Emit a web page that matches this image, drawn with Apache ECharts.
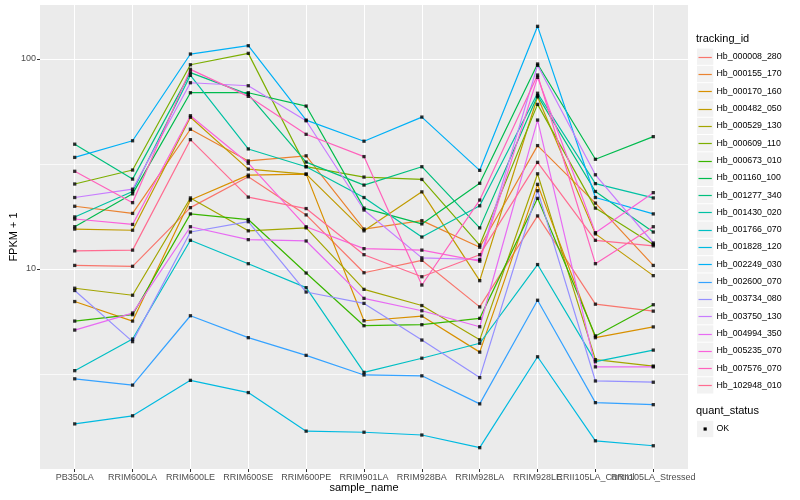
<!DOCTYPE html>
<html>
<head>
<meta charset="utf-8">
<script src="https://cdn.jsdelivr.net/npm/echarts@6.0.0/dist/echarts.min.js"></script>
<style>
html,body{margin:0;padding:0;background:#fff;}
#chart{width:800px;height:500px;}
</style>
</head>
<body>
<div id="chart"></div>
<script>
// ---------------- data ----------------
const categories = ["PB350LA","RRIM600LA","RRIM600LE","RRIM600SE","RRIM600PE","RRIM901LA","RRIM928BA","RRIM928LA","RRIM928LE","RRII105LA_Control","RRII105LA_Stressed"];
const trackingIds = ["Hb_000008_280","Hb_000155_170","Hb_000170_160","Hb_000482_050","Hb_000529_130","Hb_000609_110","Hb_000673_010","Hb_001160_100","Hb_001277_340","Hb_001430_020","Hb_001766_070","Hb_001828_120","Hb_002249_030","Hb_002600_070","Hb_003734_080","Hb_003750_130","Hb_004994_350","Hb_005235_070","Hb_007576_070","Hb_102948_010"];
const seriesColors = ["#F8766D","#EA8331","#D89000","#C09B00","#A3A500","#7CAE00","#39B600","#00BB4E","#00BF7D","#00C1A3","#00BFC4","#00BAE0","#00B0F6","#35A2FF","#9590FF","#C77CFF","#E76BF3","#FA62DB","#FF62BC","#FF6C91"];

const hb_000008_280 = [10.4, 10.3, 19.6, 27.5, 18.1, 9.6, 11.0, 6.6, 17.9, 6.8, 6.3];
const hb_000155_170 = [19.9, 18.4, 46.3, 32.7, 34.6, 15.5, 17.0, 12.7, 38.7, 20.6, 10.4];
const hb_000170_160 = [7.0, 5.65, 21.3, 28.0, 28.3, 5.67, 5.97, 4.02, 25.3, 4.71, 5.30];
const hb_000482_050 = [15.5, 15.3, 52.8, 29.9, 28.3, 15.2, 23.3, 8.8, 66.1, 14.7, 9.3];
const hb_000529_130 = [8.1, 7.5, 21.8, 15.2, 15.7, 8.0, 6.7, 4.6, 28.4, 3.7, 3.45];
const hb_000609_110 = [25.4, 29.6, 93.9, 106.4, 30.7, 27.4, 26.7, 13.0, 60.8, 19.5, 13.1];
const hb_000673_010 = [5.65, 6.06, 18.3, 17.2, 9.57, 5.37, 5.43, 5.82, 21.7, 4.80, 6.76];
const hb_001160_100 = [15.9, 22.8, 69.1, 69.1, 59.7, 19.5, 16.4, 25.6, 94.7, 33.3, 42.7];
const hb_001277_340 = [39.3, 26.8, 86.1, 67.9, 32.3, 25.1, 30.7, 15.7, 66.9, 23.4, 15.0];
const hb_001430_020 = [17.7, 23.4, 83.6, 37.3, 30.7, 21.9, 14.2, 20.0, 68.7, 25.5, 21.8];
const hb_001766_070 = [3.28, 4.64, 13.7, 10.6, 8.15, 3.22, 3.76, 4.43, 10.5, 3.62, 4.11];
const hb_001828_120 = [1.83, 2.00, 2.95, 2.58, 1.69, 1.67, 1.62, 1.41, 3.82, 1.52, 1.44];
const hb_002249_030 = [34.0, 40.8, 105.6, 115.7, 51.2, 40.6, 52.9, 29.5, 143.1, 21.9, 18.3];
const hb_002600_070 = [3.00, 2.80, 5.99, 4.71, 3.88, 3.13, 3.10, 2.28, 7.10, 2.31, 2.26];
const hb_003734_080 = [7.90, 4.51, 15.0, 16.8, 7.77, 6.86, 4.59, 3.04, 23.6, 2.93, 2.89];
const hb_003750_130 = [21.9, 24.0, 77.1, 74.6, 50.8, 19.1, 11.3, 11.1, 93.3, 28.1, 13.3];
const hb_004994_350 = [5.12, 6.17, 15.9, 13.8, 13.6, 7.25, 6.33, 5.31, 51.2, 3.42, 3.42];
const hb_005235_070 = [17.3, 16.3, 53.7, 31.9, 15.9, 12.5, 12.3, 10.9, 81.8, 14.9, 23.1];
const hb_007576_070 = [29.2, 20.7, 89.3, 66.4, 43.8, 34.3, 8.39, 21.3, 83.9, 10.6, 15.9];
const hb_102948_010 = [12.2, 12.3, 41.3, 22.0, 19.4, 11.7, 9.19, 11.7, 32.2, 13.7, 12.9];

const seriesValues = [hb_000008_280, hb_000155_170, hb_000170_160, hb_000482_050, hb_000529_130,
  hb_000609_110, hb_000673_010, hb_001160_100, hb_001277_340, hb_001430_020, hb_001766_070,
  hb_001828_120, hb_002249_030, hb_002600_070, hb_003734_080, hb_003750_130, hb_004994_350,
  hb_005235_070, hb_007576_070, hb_102948_010];

const yTickValues = [10, 100];
const yMinorValues = [3.1623, 31.623];
const quantStatus = ["OK"];

// ---------------- chart ----------------
const FONT = "'Liberation Sans', Arial, sans-serif";
const chart = echarts.init(document.getElementById('chart'), null, {renderer: 'canvas'});
const catIdx = categories.map((_, i) => i);
// labels split over two coincident bottom axes so that overlapping neighbours are both drawn
const evenIdx = catIdx.filter(i => i % 2 === 0);
const oddIdx = catIdx.filter(i => i % 2 === 1);

const series = [];
seriesValues.forEach((vals, k) => {
  series.push({
    type: 'line', name: trackingIds[k],
    data: vals.map((v, i) => [i, v]),
    showSymbol: false, silent: true, animation: false, z: 2,
    lineStyle: {color: seriesColors[k], width: 1.2},
    itemStyle: {color: seriesColors[k]}
  });
});
seriesValues.forEach((vals, k) => {
  series.push({
    type: 'scatter', name: trackingIds[k] + '_pts',
    data: vals.map((v, i) => [i, v]),
    symbol: 'rect', symbolSize: 3.3, silent: true, animation: false, z: 3,
    itemStyle: {color: '#000'}
  });
});

// legend drawn as graphic elements
const graphic = [];
const legX = 696, keyX = 697, keySize = 16.3, step = 17.3, firstY = 56.7;
graphic.push({type: 'text', left: legX, top: 33, style: {text: 'tracking_id', fontSize: 11, fontFamily: FONT, fill: '#000'}});
trackingIds.forEach((id, i) => {
  const yc = firstY + step * i;
  const yl = Math.round(yc) + 0.5;
  graphic.push({type: 'rect', shape: {x: keyX, y: yc - keySize / 2, width: keySize, height: keySize}, style: {fill: '#F2F2F2'}});
  graphic.push({type: 'line', shape: {x1: keyX + 1.5, y1: yl, x2: keyX + keySize - 1.5, y2: yl}, style: {stroke: seriesColors[i], lineWidth: 1.2}});
  graphic.push({type: 'text', x: 716.5, y: yc, style: {text: id, fontSize: 8.8, fontFamily: FONT, fill: '#000', verticalAlign: 'middle'}});
});
graphic.push({type: 'text', left: legX, top: 405, style: {text: 'quant_status', fontSize: 11, fontFamily: FONT, fill: '#000'}});
quantStatus.forEach((q, i) => {
  const yc = 429 + step * i;
  graphic.push({type: 'rect', shape: {x: keyX, y: yc - keySize / 2, width: keySize, height: keySize}, style: {fill: '#F2F2F2'}});
  graphic.push({type: 'rect', shape: {x: keyX + keySize / 2 - 1.6, y: yc - 1.6, width: 3.2, height: 3.2}, style: {fill: '#000'}});
  graphic.push({type: 'text', x: 716.5, y: yc, style: {text: q, fontSize: 8.8, fontFamily: FONT, fill: '#000', verticalAlign: 'middle'}});
});

function xAxisFor(idx, withName, withSplit) {
  return {
    type: 'value', min: -0.6, max: 10.6, position: 'bottom',
    axisLine: {show: false, onZero: false},
    axisTick: {show: true, length: 3, customValues: idx, lineStyle: {color: '#333', width: 1}},
    axisLabel: {customValues: idx, formatter: v => categories[Math.round(v)], color: '#4D4D4D', fontSize: 9, margin: 4, fontFamily: FONT, hideOverlap: false, showMinLabel: true, showMaxLabel: true},
    splitLine: {show: withSplit, lineStyle: {color: '#fff', width: 1}},
    name: withName ? 'sample_name' : '', nameLocation: 'middle', nameGap: 13, nameMoveOverlap: false,
    nameTextStyle: {fontSize: 11, color: '#000', fontFamily: FONT}
  };
}

const option = {
  backgroundColor: '#fff',
  animation: false,
  textStyle: {fontFamily: FONT},
  grid: {left: 40, right: 112, top: 5, bottom: 31, show: true, backgroundColor: '#EBEBEB', borderWidth: 0, containLabel: false, outerBoundsMode: 'none'},
  xAxis: [xAxisFor(evenIdx, true, true), xAxisFor(oddIdx, false, true)],
  yAxis: [{
    type: 'log', logBase: 10, min: 1.116, max: 180.8,
    axisLine: {show: false, onZero: false},
    axisTick: {show: true, length: 3, customValues: yTickValues, lineStyle: {color: '#333', width: 1}},
    axisLabel: {customValues: yTickValues, formatter: v => String(Math.round(v)), color: '#4D4D4D', fontSize: 9, margin: 4, fontFamily: FONT},
    splitLine: {show: true, lineStyle: {color: '#fff', width: 1.1}},
    name: 'FPKM + 1', nameLocation: 'middle', nameGap: 21, nameMoveOverlap: false,
    nameTextStyle: {fontSize: 11, color: '#000', fontFamily: FONT}
  }, {
    type: 'log', logBase: 10, min: 1.116, max: 180.8,
    axisLine: {show: false, onZero: false},
    axisTick: {show: false, customValues: yMinorValues},
    axisLabel: {show: false, customValues: yMinorValues},
    splitLine: {show: true, lineStyle: {color: '#fff', width: 0.7}}
  }],
  series: series,
  graphic: graphic
};
chart.setOption(option);
</script>
</body>
</html>
